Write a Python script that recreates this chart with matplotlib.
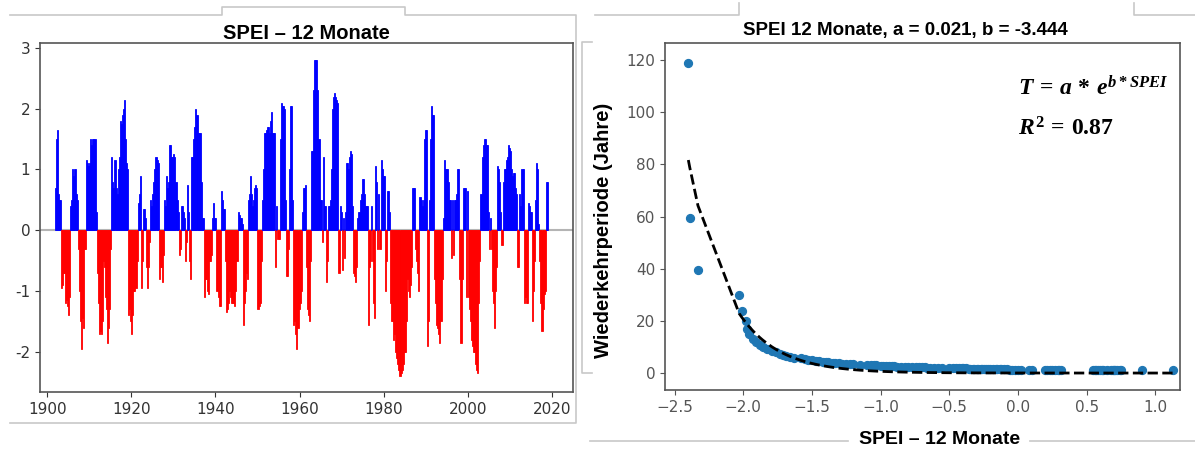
import numpy as np
import matplotlib
matplotlib.use('Agg')
import matplotlib.pyplot as plt
from matplotlib.lines import Line2D
from matplotlib.ticker import FormatStrFormatter

plt.rcParams['mathtext.fontset'] = 'custom'
plt.rcParams['mathtext.it'] = 'Liberation Serif:italic:bold'
plt.rcParams['mathtext.rm'] = 'Liberation Serif:bold'
plt.rcParams['mathtext.bf'] = 'Liberation Serif:bold'

# SPEI-12, one value per quarter
years = list(range(1901, 2019))
spei_quarters = [
    [np.nan, np.nan, np.nan, 0.7],   # 1901
    [1.5, 1.65, 0.6, 0.5],          # 1902
    [0.5, -0.95, -0.9, -0.7],
    [-0.7, -1.2, -1.15, -1.25],
    [-1.4, -1.1, 0.4, 0.5],
    [1.0, 0.9, 1.0, 0.6],
    [0.5, -0.3, -1.0, -1.5],
    [-1.95, -1.45, -1.6, -0.3],
    [-0.3, 1.15, 1.1, 1.05],
    [1.1, 1.5, 1.4, 1.5],           # 1910
    [1.5, 1.5, 0.3, -0.7],
    [-1.2, -1.7, -1.65, -1.7],
    [-1.5, -0.5, -0.6, -1.1],
    [-1.3, -1.85, -1.6, -1.3],
    [-0.3, 1.2, 0.8, 0.7],
    [1.15, 0.7, 0.6, 1.0],
    [1.2, 1.8, 1.75, 1.9],
    [2.0, 2.15, 1.5, 1.1],
    [1.0, -1.4, -1.3, -1.5],
    [-1.7, -1.4, -1.0, -1.0],       # 1920
    [-0.95, -0.5, 0.45, 0.6],
    [0.9, -0.95, -0.5, 0.35],
    [0.35, 0.2, -0.6, -0.95],
    [-0.6, -0.2, 0.5, 0.4],
    [0.6, 0.8, 1.0, 1.2],
    [1.15, 1.1, -0.8, -0.6],
    [-0.6, -0.85, -0.4, 0.5],
    [0.4, 0.9, 0.7, 0.8],
    [1.4, 1.4, 1.2, 1.2],
    [1.25, 1.2, 0.8, 0.5],          # 1930
    [0.3, -0.4, -0.3, 0.4],
    [0.4, 0.3, 0.2, -0.5],
    [-0.2, 0.75, 0.3, -0.5],
    [-0.8, 1.2, 1.2, 1.5],
    [1.7, 2.0, 1.9, 1.6],
    [1.6, 1.6, 0.8, 0.2],
    [0.2, -1.1, -0.8, -0.8],
    [-1.0, -1.05, -0.5, -0.5],
    [-0.4, 0.2, 0.45, 0.2],
    [0.2, -1.0, -1.1, -1.25],       # 1940
    [-1.25, 0.65, 0.5, 0.35],
    [0.35, -0.5, -1.35, -1.3],
    [-1.2, -1.0, -1.1, -1.2],
    [-1.2, -1.2, -1.25, -1.0],
    [-0.5, 0.3, 0.25, 0.2],
    [0.2, 0.1, -1.55, -1.2],
    [-1.0, -0.7, -0.8, 0.5],
    [0.6, 0.9, 0.6, 0.4],
    [0.5, 0.7, 0.75, 0.7],
    [-1.3, -1.25, -1.2, -0.5],      # 1950
    [0.5, 1.0, 1.6, 1.6],
    [1.65, 1.7, 1.7, 1.6],
    [1.8, 1.95, 1.6, 1.6],
    [1.6, -0.6, 0.4, -0.15],
    [-0.15, 1.5, 2.1, 2.05],
    [2.05, 2.0, 0.5, -0.75],
    [-0.75, -0.3, 1.0, 2.05],
    [2.05, 0.5, -1.55, -1.5],
    [-1.7, -1.95, -1.6, -1.3],
    [-1.2, -1.0, 0.3, 0.7],         # 1960
    [0.7, 0.75, -0.6, -1.3],
    [-1.4, -1.5, -0.5, 1.3],
    [1.3, 2.3, 2.8, 2.8],
    [2.8, 2.3, 1.5, 0.5],
    [0.5, -0.2, 1.2, 0.4],
    [0.4, -0.85, -0.5, 0.4],
    [0.4, 0.5, 1.0, 2.0],
    [2.2, 2.25, 2.2, 2.15],
    [2.1, -0.7, 0.4, 0.3],
    [-0.65, 0.2, -0.45, 0.3],       # 1970
    [1.1, 1.1, 1.0, 1.2],
    [1.3, 1.25, 0.4, -0.7],
    [-0.75, -0.85, -0.6, 0.2],
    [0.3, 0.5, 0.6, 0.85],
    [0.85, 0.6, 0.4, 0.4],
    [0.4, -1.55, -0.6, -0.5],
    [0.4, -0.5, -1.2, -1.45],
    [1.05, 0.8, -0.3, 0.6],
    [-0.3, 1.15, 1.0, 0.9],
    [0.9, -1.0, -0.5, 0.65],        # 1980
    [0.65, 0.3, -1.2, -1.5],
    [-1.5, -1.8, -1.7, -2.0],
    [-2.1, -2.2, -2.3, -2.4],
    [-2.35, -2.3, -2.2, -2.0],
    [-2.0, -1.5, -0.8, -1.0],
    [-1.1, -0.9, -0.6, 0.7],
    [0.7, 0.7, -0.3, -0.5],
    [-0.7, -1.0, 0.55, 0.5],
    [0.4, 0.5, 1.5, 1.65],
    [1.65, -1.9, -1.5, 0.5],        # 1990
    [1.5, 2.05, 1.9, 1.9],
    [-0.8, -1.2, -1.55, -1.6],
    [-1.7, -1.85, -1.5, -0.8],
    [0.2, 1.15, 1.0, 1.0],
    [1.0, 0.8, 0.5, 0.5],
    [-0.45, 0.5, -0.4, 0.5],
    [0.5, 0.6, 1.0, 1.0],
    [-0.8, -1.85, -0.8, 0.7],
    [0.7, 0.7, -1.1, 0.65],
    [-1.1, -1.3, -1.5, -1.8],       # 2000
    [-1.9, -2.0, -2.0, -2.2],
    [-2.3, -2.35, -1.2, -0.5],
    [0.6, 1.2, 1.4, 1.5],
    [1.5, 1.4, 1.4, 0.3],
    [-0.3, 0.2, -0.3, -1.0],
    [-1.2, -1.6, -1.0, -0.6],
    [1.05, 1.0, 0.8, 0.3],
    [-0.25, 0.8, 1.0, 1.0],
    [1.15, 1.2, 1.4, 1.35],
    [1.3, 1.0, 0.9, 0.95],          # 2010
    [0.95, 0.7, 0.6, -0.6],
    [-0.6, 0.6, 0.4, 1.0],
    [1.0, -1.2, -1.1, -1.2],
    [-1.2, 0.45, 0.4, 0.3],
    [0.3, -1.5, -1.0, -0.5],
    [0.5, 1.1, 1.0, 0.1],
    [-0.5, -1.2, -1.65, -1.3],
    [-1.05, -1.0, 0.8, 0.8],        # 2018
]
quarter_offsets = [0.0, 0.25, 0.5, 0.75]

# right panel: sorted SPEI values and their return periods (years)
spei_sorted = [
    -2.40, -2.39, -2.33, -2.03, -2.01, -1.98, -1.97, -1.96, -1.93, -1.91,
    -1.88, -1.86, -1.83, -1.79, -1.76, -1.73, -1.71, -1.69, -1.66, -1.63,
    -1.58, -1.55, -1.53, -1.50, -1.47, -1.45, -1.42, -1.40, -1.38, -1.35,
    -1.33, -1.30, -1.28, -1.25, -1.22, -1.20, -1.15, -1.10, -1.07, -1.05,
    -1.03, -1.00, -0.98, -0.96, -0.94, -0.92, -0.90, -0.88, -0.85, -0.82,
    -0.80, -0.77, -0.74, -0.72, -0.70, -0.68, -0.66, -0.64, -0.61, -0.58,
    -0.55, -0.50, -0.47, -0.45, -0.43, -0.41, -0.40, -0.38, -0.36, -0.35,
    -0.33, -0.32, -0.30, -0.29, -0.27, -0.26, -0.25, -0.23, -0.22, -0.20,
    -0.18, -0.16, -0.15, -0.13, -0.12, -0.10, -0.08, -0.06, -0.04, -0.02,
    0.00, 0.02, 0.08, 0.10, 0.20, 0.21, 0.23, 0.25, 0.27, 0.29,
    0.30, 0.31, 0.55, 0.56, 0.57, 0.58, 0.60, 0.61, 0.62, 0.65,
    0.68, 0.69, 0.70, 0.71, 0.72, 0.74, 0.75, 0.90, 1.13,
]
return_period = [
    119.0, 59.5, 39.67, 29.75, 23.8, 19.83, 17.0, 14.88, 13.22, 11.9,
    10.82, 9.92, 9.15, 8.5, 7.93, 7.44, 7.0, 6.61, 6.26, 5.95,
    5.67, 5.41, 5.17, 4.96, 4.76, 4.58, 4.41, 4.25, 4.10, 3.97,
    3.84, 3.72, 3.61, 3.50, 3.40, 3.31, 3.22, 3.13, 3.05, 2.98,
    2.90, 2.83, 2.77, 2.70, 2.64, 2.59, 2.53, 2.48, 2.43, 2.38,
    2.33, 2.29, 2.25, 2.20, 2.16, 2.13, 2.09, 2.05, 2.02, 1.98,
    1.95, 1.92, 1.89, 1.86, 1.83, 1.80, 1.78, 1.75, 1.72, 1.70,
    1.68, 1.65, 1.63, 1.61, 1.59, 1.57, 1.55, 1.53, 1.51, 1.49,
    1.47, 1.45, 1.43, 1.42, 1.40, 1.38, 1.37, 1.35, 1.34, 1.32,
    1.31, 1.29, 1.28, 1.27, 1.25, 1.24, 1.23, 1.21, 1.20, 1.19,
    1.18, 1.17, 1.16, 1.14, 1.13, 1.12, 1.11, 1.10, 1.09, 1.08,
    1.07, 1.06, 1.05, 1.04, 1.03, 1.03, 1.02, 1.01, 1.00,
]
fit_a = 0.021
fit_b = -3.444
fit_r2 = 0.87

W, H = 1195, 450
fig = plt.figure(figsize=(W / 100, H / 100), dpi=100)


def box(l, t, r, b):
    return [l / W, 1 - b / H, (r - l) / W, (b - t) / H]


def frame_line(xs, ys):
    fig.add_artist(Line2D([x / W for x in xs], [1 - y / H for y in ys],
                          color='#c8c8c8', lw=1.2, transform=fig.transFigure))


# document frame around the two images
frame_line([10, 222, 222, 405, 405, 576, 576, 10], [15, 15, 7, 7, 15, 15, 423, 423])
frame_line([595, 739, 739], [15, 15, 3])
frame_line([1134, 1134, 1195], [3, 15, 15])
frame_line([592, 582, 582, 592], [42, 42, 373, 373])
frame_line([590, 848], [441, 441])
frame_line([1030, 1195], [441, 441])

ax1 = fig.add_axes(box(40, 43, 573, 392))
ax2 = fig.add_axes(box(665, 43, 1180, 390))

# left: SPEI time series
t = np.repeat(years, 4) + np.tile(quarter_offsets, len(years))
vals = np.array(spei_quarters, dtype=float).ravel()
colors = np.where(vals >= 0, '#0000ff', '#ff0000')
ax1.bar(t, vals, width=0.25, align='edge', color=colors, edgecolor=colors,
        linewidth=0.6, zorder=2)
ax1.axhline(0, color='#b4b4b4', lw=1.5, zorder=1)
ax1.set_xlim(1898.3, 2025)
ax1.set_ylim(-2.66, 3.08)
ax1.yaxis.set_major_formatter(FormatStrFormatter('%d'))
ax1.set_title('SPEI – 12 Monate', fontsize=14.5, fontweight='bold',
              family='Liberation Sans', pad=3)

# right: return period vs SPEI
x = np.array(spei_sorted)
ax2.scatter(x, return_period, s=32, color='#1f77b4', zorder=3)
ax2.plot(x, fit_a * np.exp(fit_b * x), color='black', ls='--', lw=2, zorder=4)
ax2.set_xlim(-2.57, 1.18)
ax2.set_ylim(-6.5, 126.5)
ax2.set_title(f'SPEI 12 Monate, a = {fit_a}, b = {fit_b}', fontsize=13.5,
              fontweight='bold', family='Liberation Sans', pad=6, x=0.466)
ax2.set_xlabel('SPEI – 12 Monate', fontsize=14, fontweight='bold',
               family='Liberation Sans', va='center')
ax2.xaxis.set_label_coords(0.534, -0.144)
ax2.set_ylabel('Wiederkehrperiode (Jahre)', fontsize=14.5, fontweight='bold',
               family='Liberation Sans', va='center')
ax2.yaxis.set_label_coords(-0.12, 0.46)
ax2.text(0.685, 0.87, r'$T\,=\,a\,*\,e^{b * SPEI}$', transform=ax2.transAxes,
         fontsize=17, va='center')
ax2.text(0.685, 0.755, r'$R^2\,=\,%.2f$' % fit_r2, transform=ax2.transAxes,
         fontsize=17, va='center')

for ax, tc in ((ax1, '#333333'), (ax2, '#555555')):
    for s in ax.spines.values():
        s.set_color('#555555')
        s.set_linewidth(1.2)
    ax.tick_params(labelsize=11, colors=tc)

fig.savefig('out.png', dpi=100)
